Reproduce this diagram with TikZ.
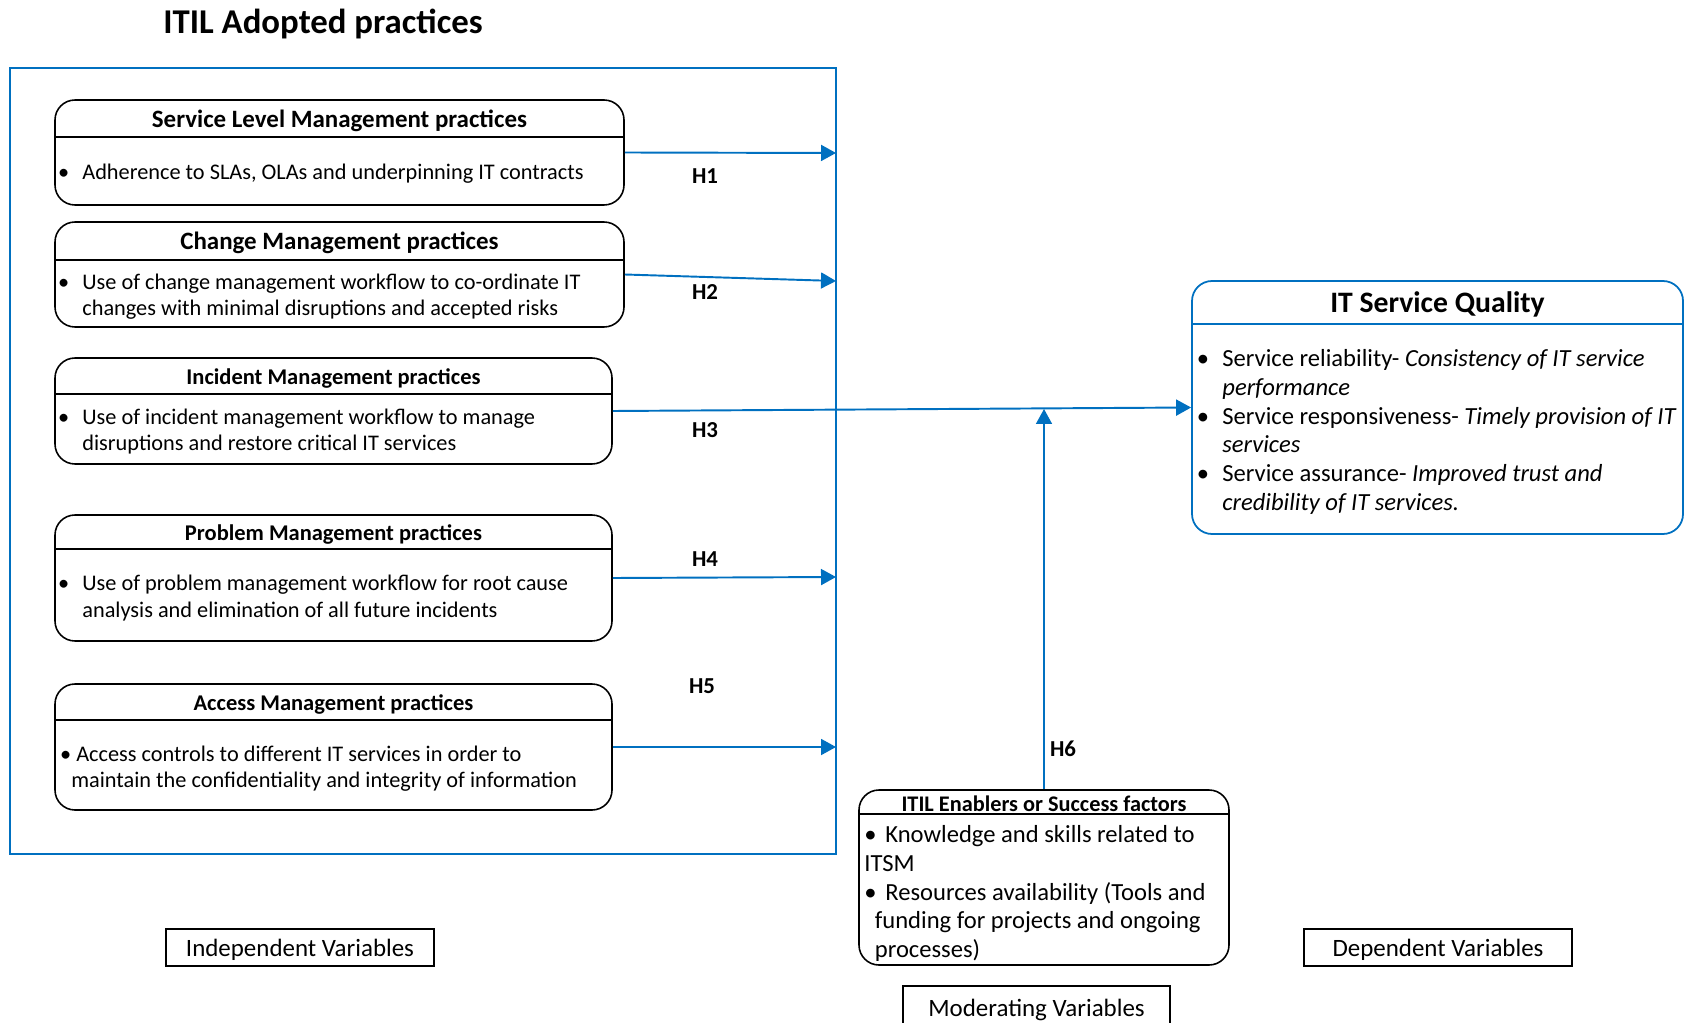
\documentclass[tikz,border=0pt]{standalone}
\usepackage{fontspec}
\setmainfont{Carlito}
\usetikzlibrary{arrows.meta,fit}
\definecolor{itblue}{HTML}{0070C0}
\newcommand\mybul{\makebox[0pt][r]{\textbullet\hspace{7.5pt}}}
\begin{document}
\begin{tikzpicture}[x=0.02cm,y=-0.02cm,
  box/.style={draw=black, line width=0.9pt, rounded corners=0.4cm, inner sep=0pt},
  bluebox/.style={draw=itblue, line width=1pt, rounded corners=0.4cm, inner sep=0pt},
  varbox/.style={draw=black, line width=0.9pt, inner sep=0pt, text depth=0pt, font=\fontsize{14.2}{16}\selectfont},
  arr/.style={draw=itblue, line width=1.1pt, -{Triangle[length=0.3cm,width=0.32cm]}},
  ttl/.style={font=\bfseries\fontsize{14.2}{16}\selectfont, inner sep=0pt},
  ttls/.style={font=\bfseries\fontsize{12.8}{15}\selectfont, inner sep=0pt},
  body/.style={font=\fontsize{12.7}{15}\selectfont, align=left, inner sep=0pt, anchor=west},
  hlab/.style={font=\bfseries\fontsize{13}{15}\selectfont, inner sep=0pt}]

\useasboundingbox (0,0) rectangle (1692,1023);

\node[font=\bfseries\fontsize{19.8}{22}\selectfont, inner sep=0pt] (maintitle) at (323,24) {ITIL Adopted practices};

\node[draw=itblue, line width=1pt, fit={(10,68) (836,854)}, inner sep=0pt] (iv) {};

% Box 1
\node[box, fit={(55,100) (624,205)}] (b1) {};
\draw[line width=0.9pt] (55,137) -- (624,137);
\node[ttl] (t1) at (339.5,121) {Service Level Management practices};
\node[body] (x1) at (82,174) {\mybul Adherence to SLAs, OLAs and underpinning IT contracts};

% Box 2
\node[box, fit={(55,222) (624,327)}] (b2) {};
\draw[line width=0.9pt] (55,260) -- (624,260);
\node[ttl] (t2) at (339.5,243) {Change Management practices};
\node[body] (x2) at (82,296.5) {\mybul Use of change management workflow to co-ordinate IT\\changes with minimal disruptions and accepted risks};

% Box 3
\node[box, fit={(55,358) (612,464)}] (b3) {};
\draw[line width=0.9pt] (55,394) -- (612,394);
\node[ttls] (t3) at (333.5,378) {Incident Management practices};
\node[body] (x3) at (82,431.5) {\mybul Use of incident management workflow to manage\\disruptions and restore critical IT services};

% Box 4
\node[box, fit={(55,515) (612,641)}] (b4) {};
\draw[line width=0.9pt] (55,549) -- (612,549);
\node[ttls] (t4) at (333.5,534) {Problem Management practices};
\node[body] (x4) at (82,598) {\mybul Use of problem management workflow for root cause\\analysis and elimination of all future incidents};

% Box 5
\node[box, fit={(55,684) (612,810)}] (b5) {};
\draw[line width=0.9pt] (55,720) -- (612,720);
\node[ttls] (t5) at (333.5,704) {Access Management practices};
\node[body] (x5) at (71,768.5) {\makebox[0pt][r]{\textbullet}\hspace{2.8pt}Access controls to different IT services in order to\\maintain the confidentiality and integrity of information};

% IT Service Quality
\node[bluebox, fit={(1192,281) (1683,534)}] (isq) {};
\draw[itblue, line width=1pt] (1192,324) -- (1683,324);
\node[font=\bfseries\fontsize{16.9}{19}\selectfont, inner sep=0pt] (tisq) at (1437.5,304) {IT Service Quality};
\node[body, font=\fontsize{14}{16.4}\selectfont] (xisq) at (1222,432) {\mybul Service reliability- \textit{Consistency of IT service}\\
\textit{performance}\\
\mybul Service responsiveness- \textit{Timely provision of IT}\\
\textit{services}\\
\mybul Service assurance- \textit{Improved trust and}\\
\textit{credibility of IT services.}};

% Enablers
\node[box, fit={(859,790) (1229,965)}] (enb) {};
\draw[line width=0.9pt] (859,814) -- (1229,814);
\node[font=\bfseries\fontsize{12.7}{14}\selectfont, inner sep=0pt] (tenb) at (1044,804) {ITIL Enablers or Success factors};
\node[body, font=\fontsize{14}{16.3}\selectfont] (xenb) at (864,893.5) {\textbullet\hspace{5pt}Knowledge and skills related to\\
ITSM\\
\textbullet\hspace{5pt}Resources availability (Tools and\\
\hspace*{6pt}funding for projects and ongoing\\
\hspace*{6pt}processes)};

% Variable labels
\node[varbox, minimum width=5.36cm, minimum height=0.74cm] (ivl) at (300,947.5) {Independent Variables};
\node[varbox, minimum width=5.34cm, minimum height=0.88cm] (mvl) at (1036.5,1008) {Moderating Variables};
\node[varbox, minimum width=5.36cm, minimum height=0.74cm] (dvl) at (1438,947.5) {Dependent Variables};

% Connectors
\coordinate (e1) at (836,153);
\coordinate (e2) at (836,281);
\coordinate (e4) at (836,577);
\coordinate (e5) at (836,747);
\coordinate (h6end) at (1044,409);
\draw[arr] (b1.east) -- (e1);
\draw[arr] (b2.east) -- (e2);
\draw[arr] (b3.east) -- (isq.west);
\draw[arr] (b4.east) -- (e4);
\draw[arr] (b5.east) -- (e5);
\draw[arr, line width=0.9pt] (enb.north) -- (h6end);

% Hypothesis labels
\node[hlab] (h1) at (705,176) {H1};
\node[hlab] (h2) at (705,292) {H2};
\node[hlab] (h3) at (705,430) {H3};
\node[hlab] (h4) at (705,559) {H4};
\node[hlab] (h5) at (702,686) {H5};
\node[hlab] (h6) at (1063,749) {H6};
\end{tikzpicture}
\end{document}
